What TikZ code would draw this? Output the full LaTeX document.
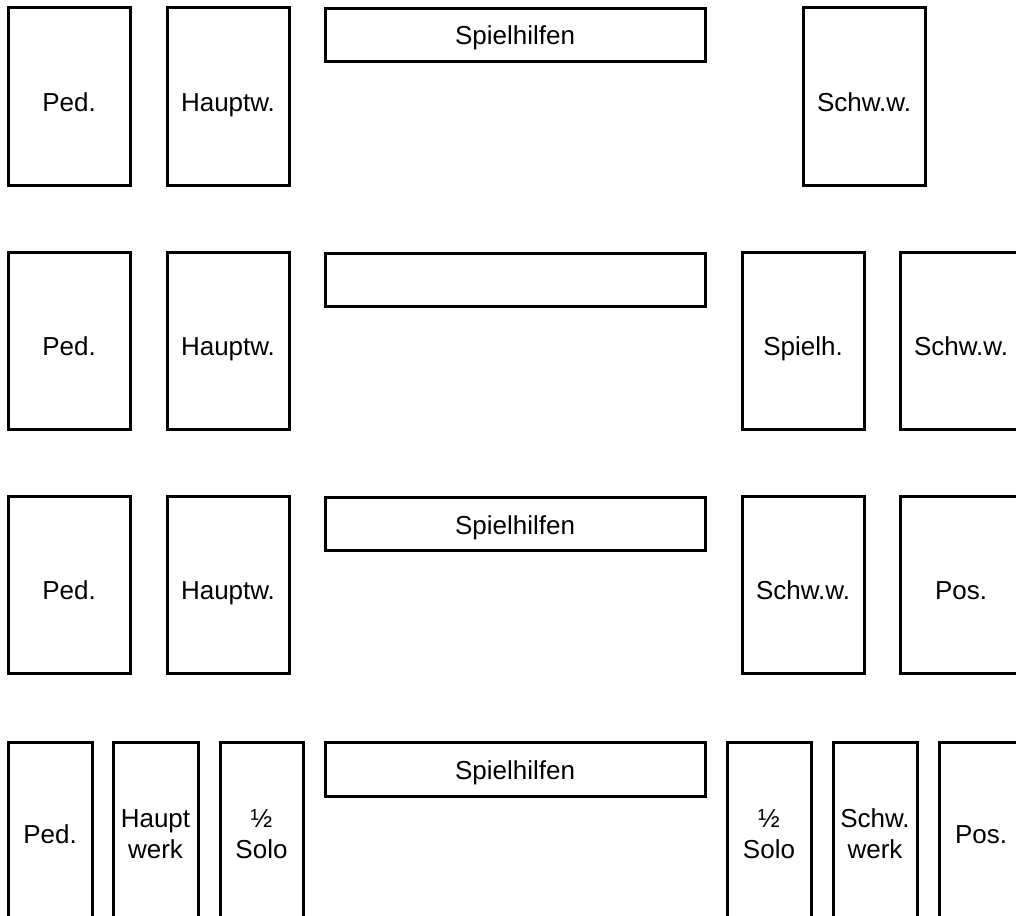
\documentclass[tikz,border=0pt]{standalone}
\usepackage{fontspec}
\setmainfont{Liberation Sans}

\tikzset{
  clavier/.style={line width=3pt},
  jeu/.style={font=\fontsize{26}{31}\selectfont, inner sep=0pt, anchor=base},
  jeux/.style={font=\fontsize{26}{31}\selectfont, inner sep=0pt, align=center}
}

\begin{document}
\begin{tikzpicture}[x=1pt,y=-1pt]
    % Cadre : 1016 x 915
\clip (0,0) rectangle (1016,915);

% Rangée 1
\draw[clavier] (8,8) rectangle (130,185);
\node[jeu] (ped1) at (69,111) {Ped.};
\draw[clavier] (167,8) rectangle (289,185);
\node[jeu] (hw1) at (228,111) {Hauptw.};
\draw[clavier] (325,9) rectangle (705,62);
\node[jeu] (sh1) at (515,45) {Spielhilfen};
\draw[clavier] (803,8) rectangle (925,185);
\node[jeu] (sw1) at (864,111) {Schw.w.};

% Rangée 2
\draw[clavier] (8,252) rectangle (130,429);
\node[jeu] (ped2) at (69,355) {Ped.};
\draw[clavier] (167,252) rectangle (289,429);
\node[jeu] (hw2) at (228,355) {Hauptw.};
\draw[clavier] (325,253) rectangle (705,306);
\draw[clavier] (742,252) rectangle (864,429);
\node[jeu] (sh2) at (803,355) {Spielh.};
\draw[clavier] (900,252) rectangle (1022,429);
\node[jeu] (sw2) at (961,355) {Schw.w.};

% Rangée 3
\draw[clavier] (8,496) rectangle (130,673);
\node[jeu] (ped3) at (69,599) {Ped.};
\draw[clavier] (167,496) rectangle (289,673);
\node[jeu] (hw3) at (228,599) {Hauptw.};
\draw[clavier] (325,497) rectangle (705,550);
\node[jeu] (sh3) at (515,534) {Spielhilfen};
\draw[clavier] (742,496) rectangle (864,673);
\node[jeu] (sw3) at (803,599) {Schw.w.};
\draw[clavier] (900,496) rectangle (1022,673);
\node[jeu] (pos3) at (961,599) {Pos.};

% Rangée 4 (coupée en bas)
\draw[clavier] (8,742) rectangle (92,930);
\node[jeu] (ped4) at (50,843) {Ped.};
\draw[clavier] (113,742) rectangle (198,930);
\node[jeux] (hw4) at (155.5,834) {Haupt\\werk};
\draw[clavier] (220,742) rectangle (303,930);
\node[jeux] (solo4a) at (261.5,834) {½\\Solo};
\draw[clavier] (325,742) rectangle (705,796);
\node[jeu] (sh4) at (515,779) {Spielhilfen};
\draw[clavier] (727,742) rectangle (811,930);
\node[jeux] (solo4b) at (769,834) {½\\Solo};
\draw[clavier] (833,742) rectangle (917,930);
\node[jeux] (sw4) at (875,834) {Schw.\\werk};
\draw[clavier] (939,742) rectangle (1023,930);
\node[jeu] (pos4) at (981,843) {Pos.};

\end{tikzpicture}
\end{document}
